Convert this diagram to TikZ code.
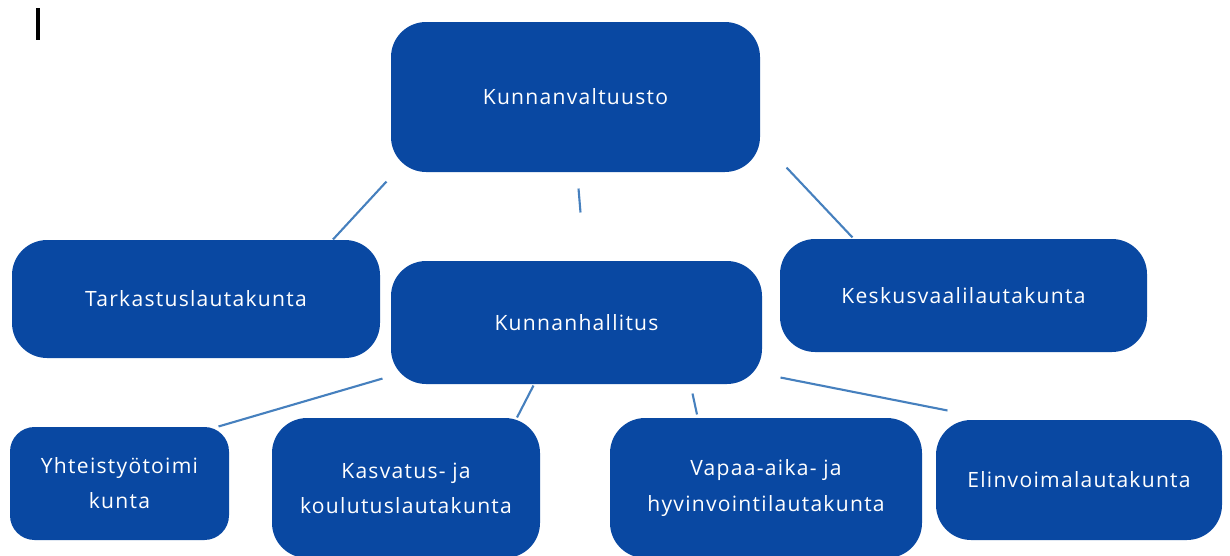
\documentclass[tikz,border=0pt]{standalone}
\usepackage{fontspec}
\setmainfont[LetterSpace=6]{Open Sans}
\usepackage{xcolor}
\usetikzlibrary{calc}
\usetikzlibrary{positioning}

\definecolor{boxblue}{RGB}{9,72,162}
\definecolor{linkblue}{RGB}{70,128,190}

\begin{document}
\begin{tikzpicture}[x=0.02cm,y=-0.02cm,semithick]
 				 \tikzstyle{organ}=[fill=boxblue, draw=none, text=white, rounded corners=20pt, inner sep=0pt, align=center, font={\fontsize{12}{20}\selectfont}]
 				 \tikzstyle{link}=[draw=linkblue, line width=1.2pt]
 				 \useasboundingbox (0,0) rectangle (1230,555);
 					 \node[organ, minimum width=369*0.02cm, minimum height=150*0.02cm] (valt) at (575.5,97) {Kunnanvaltuusto};
 					 \node[organ, minimum width=368*0.02cm, minimum height=118*0.02cm] (tark) at (196,299) {Tarkastuslautakunta};
 					 \node[organ, minimum width=371*0.02cm, minimum height=123*0.02cm] (hall) at (576.5,322.5) {Kunnanhallitus};
 					 \node[organ, minimum width=367*0.02cm, minimum height=113*0.02cm] (kesk) at (963.5,295.5) {Keskusvaalilautakunta};
 					 \node[organ, rounded corners=14pt, minimum width=219*0.02cm, minimum height=113*0.02cm] (yht) at (119.5,483.5) {Yhteistyötoimi\\kunta};
 					 \node[organ, minimum width=268*0.02cm, minimum height=140*0.02cm] (kasv) at (406,488) {Kasvatus- ja\\koulutuslautakunta};
 					 \node[organ, minimum width=312*0.02cm, minimum height=140*0.02cm] (vapaa) at (766,488) {Vapaa-aika- ja\\hyvinvointilautakunta};
 					 \node[organ, minimum width=286*0.02cm, minimum height=120*0.02cm] (elin) at (1079,480) {Elinvoimalautakunta};
 				\draw[line width=2pt] (38,8) -- (38,40);
				\path[link]
				($(valt.south west)+(-4,9)$) edge ($(tark.north)+(137,0)$)
				($(valt.south)+(3,16)$) edge ($(hall.north)+(4,-48)$)
				($(valt.south east)+(26,-5)$) edge ($(kesk.north west)+(73,-1)$)
				($(hall.south west)+(-8,-6)$) edge ($(yht.north east)+(-11,0)$)
				($(hall.south)+(-43,1)$) edge ($(kasv.north)+(111,0)$)
				($(hall.south)+(116,9)$) edge ($(vapaa.north)+(-69,-3)$)
				($(hall.south east)+(18,-7)$) edge ($(elin.north west)+(12,-9)$);
\end{tikzpicture}
\end{document}
